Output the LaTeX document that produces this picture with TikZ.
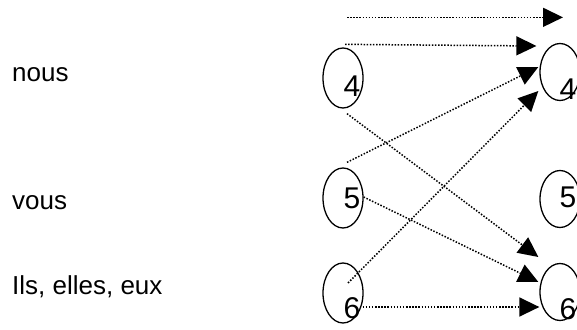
\documentclass[tikz,border=0pt]{standalone}
\usepackage{fontspec}
\setmainfont{Liberation Sans}
\usetikzlibrary{shapes.geometric,arrows.meta}

\tikzset{
  pron/.style={anchor=base west,inner sep=0pt,font=\fontsize{26}{30}\selectfont},
  slot/.style={draw,ellipse,line width=1.3pt,minimum width=40pt,minimum height=60pt,inner sep=0pt},
  digit/.style={inner sep=0pt,font=\fontsize{30}{30}\selectfont},
  flow/.style={line width=1.5pt,dash pattern=on 1.5pt off 1.6pt,
    -{Triangle[length=20pt,width=19pt]}}
}

\begin{document}
\begin{tikzpicture}[x=1pt,y=-1pt]
    \useasboundingbox (0,0) rectangle (577,329);
    % pronouns
    \node[pron] (nous) at (12,81) {nous};
    \node[pron] (vous) at (12,209) {vous};
    \node[pron] (ils) at (12,294) {Ils, elles, eux};
    % left column
    \node[slot] (l4) at (343,78) {};
    \node[slot] (l5) at (343,198) {};
    \node[slot] (l6) at (343,293) {};
    \node[digit] (dl4) at (352,86) {4};
    \node[digit] (dl5) at (352,198) {5};
    \node[digit] (dl6) at (352,308) {6};
    % right column
    \node[slot,minimum height=57pt] (r4) at (560,72) {};
    \node[slot,minimum height=57pt] (r5) at (560,199) {};
    \node[slot,minimum height=57pt] (r6) at (560,292) {};
    \node[digit] (dr4) at (568,89) {4};
    \node[digit] (dr5) at (568,197) {5};
    \node[digit] (dr6) at (568,309) {6};
    % arrows
    \draw[flow] ([shift={(4,-30)}]l4.north) -- ([shift={(3,-25.5)}]r4.north);
    \draw[flow] ([shift={(2,-3)}]l4.north) -- ([shift={(-3,-26)}]r4.west);
    \draw[flow] ([shift={(4,-5)}]l5.north) -- ([shift={(-1,-5)}]r4.west);
    \draw[flow] ([shift={(5,-10)}]l6.center) -- ([shift={(-1,19)}]r4.west);
    \draw[flow] ([shift={(4,5)}]l4.south) -- ([shift={(-1,-35)}]r6.west);
    \draw[flow] ([shift={(0,-1)}]l5.east) -- ([shift={(-1,-10)}]r6.west);
    \draw[flow] ([shift={(-1,14)}]l6.east) -- ([shift={(0,15)}]r6.west);
\end{tikzpicture}
\end{document}
